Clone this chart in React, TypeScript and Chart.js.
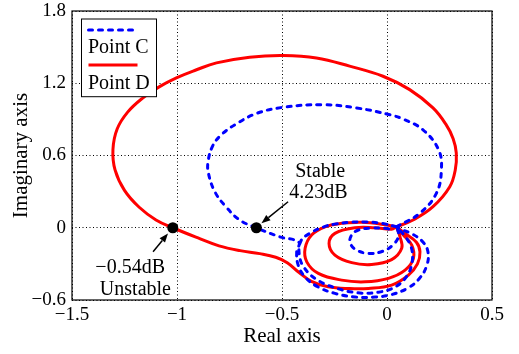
import React, { useEffect, useRef } from 'react';
import { Chart, registerables } from 'chart.js';

Chart.register(...registerables);

const FONT = '"Liberation Serif", "Times New Roman", serif';

const xTicks = [-1.5, -1, -0.5, 0, 0.5];
const yTicks = [-0.6, 0, 0.6, 1.2, 1.8];

const seriesLabels = ['Point C', 'Point D'];

// Point C (blue dashed) — null separates curve pieces
const pointCRe = [
  0.045, 0.156, 0.235, 0.259, 0.245, 0.17, 0.08, 0.013, -0.146, -0.305, -0.495, -0.62, -0.72, -0.79, -0.83, -0.852, -0.85, -0.82, -0.77, -0.701, -0.622, -0.511, -0.42, -0.43, -0.423, -0.39, -0.33, -0.248, -0.152, -0.057, 0.022, 0.1, 0.155, 0.19, 0.195, 0.17, 0.118, 0.07, 0.045,
  null,
  0.045, -0.02, -0.1, -0.178, -0.25, -0.3, -0.368, -0.41, -0.418, -0.395, -0.335, -0.245, -0.14, -0.04, 0.04, 0.095, 0.12, 0.115, 0.085, 0.045,
  null,
  0.05, 0.055, 0.03, -0.02, -0.089, -0.15, -0.176, -0.168, -0.136, -0.073, -0.01, 0.03,
];
const pointCIm = [
  0.008, 0.12, 0.286, 0.48, 0.65, 0.815, 0.9, 0.939, 0.995, 1.022, 1.0, 0.95, 0.86, 0.77, 0.68, 0.55, 0.45, 0.3, 0.18, 0.064, 0.0, -0.075, -0.12, -0.2, -0.31, -0.41, -0.49, -0.545, -0.575, -0.575, -0.555, -0.5, -0.42, -0.31, -0.2, -0.116, -0.05, -0.015, 0.008,
  null,
  0.008, 0.035, 0.048, 0.045, 0.03, 0.008, -0.047, -0.11, -0.22, -0.33, -0.43, -0.5, -0.54, -0.535, -0.49, -0.4, -0.28, -0.16, -0.07, 0.008,
  null,
  -0.01, -0.07, -0.14, -0.195, -0.213, -0.18, -0.12, -0.06, -0.019, -0.003, -0.005, -0.02,
];

// Point D (red solid)
const pointDRe = [
  0.045, 0.124, 0.219, 0.299, 0.325, 0.33, 0.315, 0.28, 0.219, 0.108, -0.019, -0.178, -0.336, -0.495, -0.654, -0.812, -0.91, -1.003, -1.085, -1.165, -1.235, -1.285, -1.305, -1.295, -1.25, -1.18, -1.1, -1.02, -0.892, -0.8, -0.7, -0.606, -0.53, -0.475, -0.42, -0.36, -0.28, -0.18, -0.089, 0.022, 0.102, 0.145, 0.157, 0.14, 0.086, 0.045,
  null,
  0.045, -0.01, -0.08, -0.136, -0.216, -0.295, -0.359, -0.39, -0.382, -0.327, -0.216, -0.105, 0.007, 0.086, 0.126, 0.118, 0.078, 0.045,
  null,
  0.045, 0.022, -0.057, -0.152, -0.248, -0.276, -0.248, -0.168, -0.073, 0.022, 0.07, 0.062, 0.045,
];
const pointDIm = [
  0.008, 0.064, 0.175, 0.341, 0.48, 0.62, 0.74, 0.86, 0.995, 1.147, 1.258, 1.342, 1.41, 1.43, 1.416, 1.369, 1.31, 1.245, 1.17, 1.075, 0.96, 0.82, 0.65, 0.48, 0.31, 0.17, 0.065, 0.0, -0.09, -0.15, -0.19, -0.215, -0.245, -0.29, -0.37, -0.445, -0.49, -0.505, -0.504, -0.476, -0.393, -0.3, -0.2, -0.12, -0.047, 0.008,
  null,
  0.008, 0.025, 0.042, 0.045, 0.037, 0.008, -0.06, -0.171, -0.283, -0.379, -0.435, -0.449, -0.42, -0.352, -0.254, -0.144, -0.06, 0.008,
  null,
  0.008, -0.012, 0.0, 0.0, -0.047, -0.13, -0.227, -0.29, -0.305, -0.265, -0.171, -0.075, 0.008,
];

// Marked crossing points
const markerRe = [-1.02, -0.622];
const markerIm = [0, 0];

// Text notes (data coordinates of baseline centre)
const noteText = ['Stable', '4.23dB', '\u22120.54dB', 'Unstable'];
const noteRe = [-0.318, -0.326, -1.223, -1.198];
const noteIm = [0.421, 0.247, -0.374, -0.555];

// Arrows
const arrowFromRe = [-0.471, -1.114];
const arrowFromIm = [0.216, -0.2];
const arrowToRe = [-0.598, -1.043];
const arrowToIm = [0.037, -0.047];

const toPoints = (re: (number | null)[], im: (number | null)[]) =>
  re.map((x, i) => (x === null || im[i] === null ? { x: null, y: null } : { x, y: im[i] }));

const fmt = (v: number) => (v < 0 ? '\u2212' : '') + String(Math.abs(v));

const drawArrow = (ctx: CanvasRenderingContext2D, x1: number, y1: number, x2: number, y2: number) => {
  const ang = Math.atan2(y2 - y1, x2 - x1);
  const len = 9;
  const half = 3.5;
  const bx = x2 - len * Math.cos(ang);
  const by = y2 - len * Math.sin(ang);
  ctx.beginPath();
  ctx.moveTo(x1, y1);
  ctx.lineTo(bx, by);
  ctx.lineWidth = 1.5;
  ctx.strokeStyle = '#000';
  ctx.stroke();
  ctx.beginPath();
  ctx.moveTo(x2, y2);
  ctx.lineTo(bx + half * Math.sin(ang), by - half * Math.cos(ang));
  ctx.lineTo(bx - half * Math.sin(ang), by + half * Math.cos(ang));
  ctx.closePath();
  ctx.fillStyle = '#000';
  ctx.fill();
};

const decorPlugin = {
  id: 'decor',
  beforeDraw(chart: any) {
    const { ctx, width, height } = chart;
    ctx.save();
    ctx.fillStyle = '#fff';
    ctx.fillRect(0, 0, width, height);
    ctx.restore();
  },
  afterDraw(chart: any) {
    const { ctx, chartArea: a, scales } = chart;
    const xs = scales.x;
    const ys = scales.y;
    ctx.save();
    ctx.setLineDash([]);
    // frame
    ctx.strokeStyle = '#000';
    ctx.lineWidth = 1.2;
    ctx.strokeRect(a.left, a.top, a.right - a.left, a.bottom - a.top);

    // notes
    ctx.fillStyle = '#000';
    ctx.font = `20px ${FONT}`;
    ctx.textAlign = 'center';
    ctx.textBaseline = 'alphabetic';
    noteText.forEach((t, i) => {
      ctx.fillText(t, xs.getPixelForValue(noteRe[i]), ys.getPixelForValue(noteIm[i]));
    });

    // arrows
    arrowFromRe.forEach((_, i) => {
      drawArrow(
        ctx,
        xs.getPixelForValue(arrowFromRe[i]),
        ys.getPixelForValue(arrowFromIm[i]),
        xs.getPixelForValue(arrowToRe[i]),
        ys.getPixelForValue(arrowToIm[i])
      );
    });

    // legend
    const bl = a.left + 9.5;
    const bt = a.top + 8;
    const bw = 75;
    const bh = 77.7;
    ctx.fillStyle = '#fff';
    ctx.fillRect(bl, bt, bw, bh);
    ctx.strokeStyle = '#000';
    ctx.lineWidth = 1;
    ctx.strokeRect(bl, bt, bw, bh);
    const ds = chart.data.datasets;
    const entries = [ds[1], ds[2]];
    entries.forEach((d: any, i: number) => {
      const ly = bt + 11 + i * 35;
      ctx.beginPath();
      ctx.setLineDash(d.borderDash || []);
      ctx.lineCap = d.borderCapStyle || 'butt';
      ctx.strokeStyle = d.borderColor;
      ctx.lineWidth = d.borderWidth;
      ctx.moveTo(bl + 7, ly);
      ctx.lineTo(bl + 56, ly);
      ctx.stroke();
      ctx.setLineDash([]);
      ctx.fillStyle = '#000';
      ctx.font = `20px ${FONT}`;
      ctx.textAlign = 'left';
      ctx.textBaseline = 'alphabetic';
      ctx.fillText(d.label, bl + 6.5, bt + 34 + i * 36);
    });
    ctx.restore();
  },
};

export default function App() {
  const canvasRef = useRef<HTMLCanvasElement | null>(null);

  useEffect(() => {
    const canvas = canvasRef.current;
    if (!canvas) return;
    const chart = new Chart(canvas, {
      type: 'scatter',
      data: {
        datasets: [
          {
            label: 'markers',
            data: markerRe.map((x, i) => ({ x, y: markerIm[i] })),
            showLine: false,
            pointRadius: 5.5,
            pointBackgroundColor: '#000',
            pointBorderColor: '#000',
            pointBorderWidth: 0,
          },
          {
            label: seriesLabels[0],
            data: toPoints(pointCRe, pointCIm) as any,
            showLine: true,
            spanGaps: false,
            borderColor: '#0000ff',
            borderWidth: 3,
            borderDash: [4, 6],
            borderCapStyle: 'round',
            pointRadius: 0,
            tension: 0.4,
            fill: false,
          },
          {
            label: seriesLabels[1],
            data: toPoints(pointDRe, pointDIm) as any,
            showLine: true,
            spanGaps: false,
            borderColor: '#ff0000',
            borderWidth: 3,
            pointRadius: 0,
            tension: 0.4,
            fill: false,
          },
        ],
      },
      options: {
        animation: false,
        responsive: false,
        devicePixelRatio: 1,
        events: [],
        layout: { padding: { left: 0, right: 27, top: 11, bottom: 0 } },
        plugins: { legend: { display: false }, tooltip: { enabled: false } },
        scales: {
          x: {
            type: 'linear',
            min: -1.5,
            max: 0.5,
            afterBuildTicks: (s: any) => {
              s.ticks = xTicks.map((v) => ({ value: v }));
            },
            afterFit: (s: any) => {
              s.height = 54;
              s.paddingLeft = 0;
              s.paddingRight = 0;
            },
            ticks: {
              color: '#000',
              font: { family: FONT, size: 19 },
              padding: 4,
              maxRotation: 0,
              autoSkip: false,
              callback: (v: any) => fmt(Number(v)),
            },
            grid: { color: '#000', lineWidth: 1, drawTicks: false },
            border: { display: false, dash: [1, 2.5] },
            title: {
              display: true,
              text: 'Real axis',
              color: '#000',
              font: { family: FONT, size: 21 },
              padding: { top: 0, bottom: 5 },
            },
          },
          y: {
            type: 'linear',
            min: -0.6,
            max: 1.8,
            afterBuildTicks: (s: any) => {
              s.ticks = yTicks.map((v) => ({ value: v }));
            },
            afterFit: (s: any) => {
              s.width = 72;
              s.paddingTop = 0;
              s.paddingBottom = 0;
            },
            ticks: {
              color: '#000',
              font: { family: FONT, size: 19 },
              padding: 6,
              autoSkip: false,
              callback: (v: any) => fmt(Number(v)),
            },
            grid: { color: '#000', lineWidth: 1, drawTicks: false },
            border: { display: false, dash: [1, 2.5] },
            title: {
              display: true,
              text: 'Imaginary axis',
              color: '#000',
              font: { family: FONT, size: 21 },
              padding: { top: 9, bottom: 0 },
            },
          },
        },
      },
      plugins: [decorPlugin],
    } as any);
    return () => chart.destroy();
  }, []);

  return (
    <div style={{ position: 'fixed', left: 0, top: 0, width: 519, height: 354, background: '#fff' }}>
      <canvas ref={canvasRef} width={519} height={354} style={{ display: 'block', width: 519, height: 354 }} />
    </div>
  );
}
